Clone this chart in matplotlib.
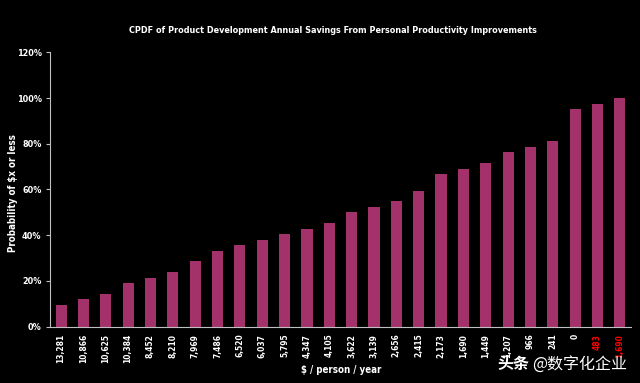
import matplotlib.pyplot as plt
from matplotlib.ticker import PercentFormatter

#   DATA   #
savings_labels = ['13,281', '10,866', '10,625', '10,384', '8,452', '8,210', '7,969',
                  '7,486', '6,520', '6,037', '5,795', '4,347', '4,105', '3,622',
                  '3,139', '2,656', '2,415', '2,173', '1,690', '1,449', '1,207',
                  '966', '241', '0', '483', '1,690']
negative_labels = ['483', '1,690']  # shown in red in the original
probability = [9.5, 11.9, 14.3, 19.0, 21.4, 23.8, 28.6, 33.3, 35.7, 38.1, 40.5,
               42.9, 45.2, 50.0, 52.4, 54.8, 59.5, 66.7, 69.0, 71.4, 76.2, 78.6,
               81.0, 95.2, 97.6, 100.0]

#   STYLE   #
narrow = dict(family='DejaVu Sans', stretch='condensed', weight='bold')
bar_color = '#a3326b'

fig = plt.figure(figsize=(6.4, 3.83), dpi=100, facecolor='black')
ax = fig.add_axes([0.078, 0.147, 0.908, 0.7165], facecolor='black')

x = range(len(probability))
ax.bar(x, probability, width=0.5, color=bar_color)

ax.set_xlim(-0.5, len(probability) - 0.5)
ax.set_ylim(0, 120)
ax.set_yticks(range(0, 121, 20))
ax.yaxis.set_major_formatter(PercentFormatter(decimals=0))

ax.set_xticks(list(x))
ax.set_xticklabels(savings_labels, rotation=90, fontsize=6, color='white', **narrow)
for lbl in ax.get_xticklabels()[-len(negative_labels):]:
    lbl.set_color('red')
for lbl in ax.get_yticklabels():
    lbl.set_fontproperties(dict(size=6.5, **narrow))
    lbl.set_color('white')

ax.tick_params(axis='x', length=0, pad=5)
ax.tick_params(axis='y', length=3, width=0.8, color='#c0c0c0', pad=3)
for side in ['top', 'right']:
    ax.spines[side].set_visible(False)
ax.spines['left'].set_color('#c0c0c0')
ax.spines['bottom'].set_color('#c0c0c0')

fig.text(0.02, 0.495, 'Probability of $x or less', fontsize=7, color='white',
         rotation=90, ha='center', va='center', **narrow)
fig.text(0.533, 0.034, '$ / person / year', fontsize=7, color='white',
         ha='center', va='center', **narrow)
fig.text(0.52, 0.92, 'CPDF of Product Development Annual Savings From Personal Productivity Improvements',
         fontsize=6.5, color='white', ha='center', va='center', **narrow)

# watermark
fig.text(0.777, 0.05, '头条', family=['Noto Sans CJK SC', 'DejaVu Sans'], fontsize=11.5,
         fontweight='bold', color='white', ha='left', va='center')
fig.text(0.832, 0.05, '@数字化企业', family=['Noto Sans CJK SC', 'DejaVu Sans'], fontsize=11.5,
         color='white', ha='left', va='center')

plt.savefig('out.png', dpi=100, facecolor='black', edgecolor='#808080')
